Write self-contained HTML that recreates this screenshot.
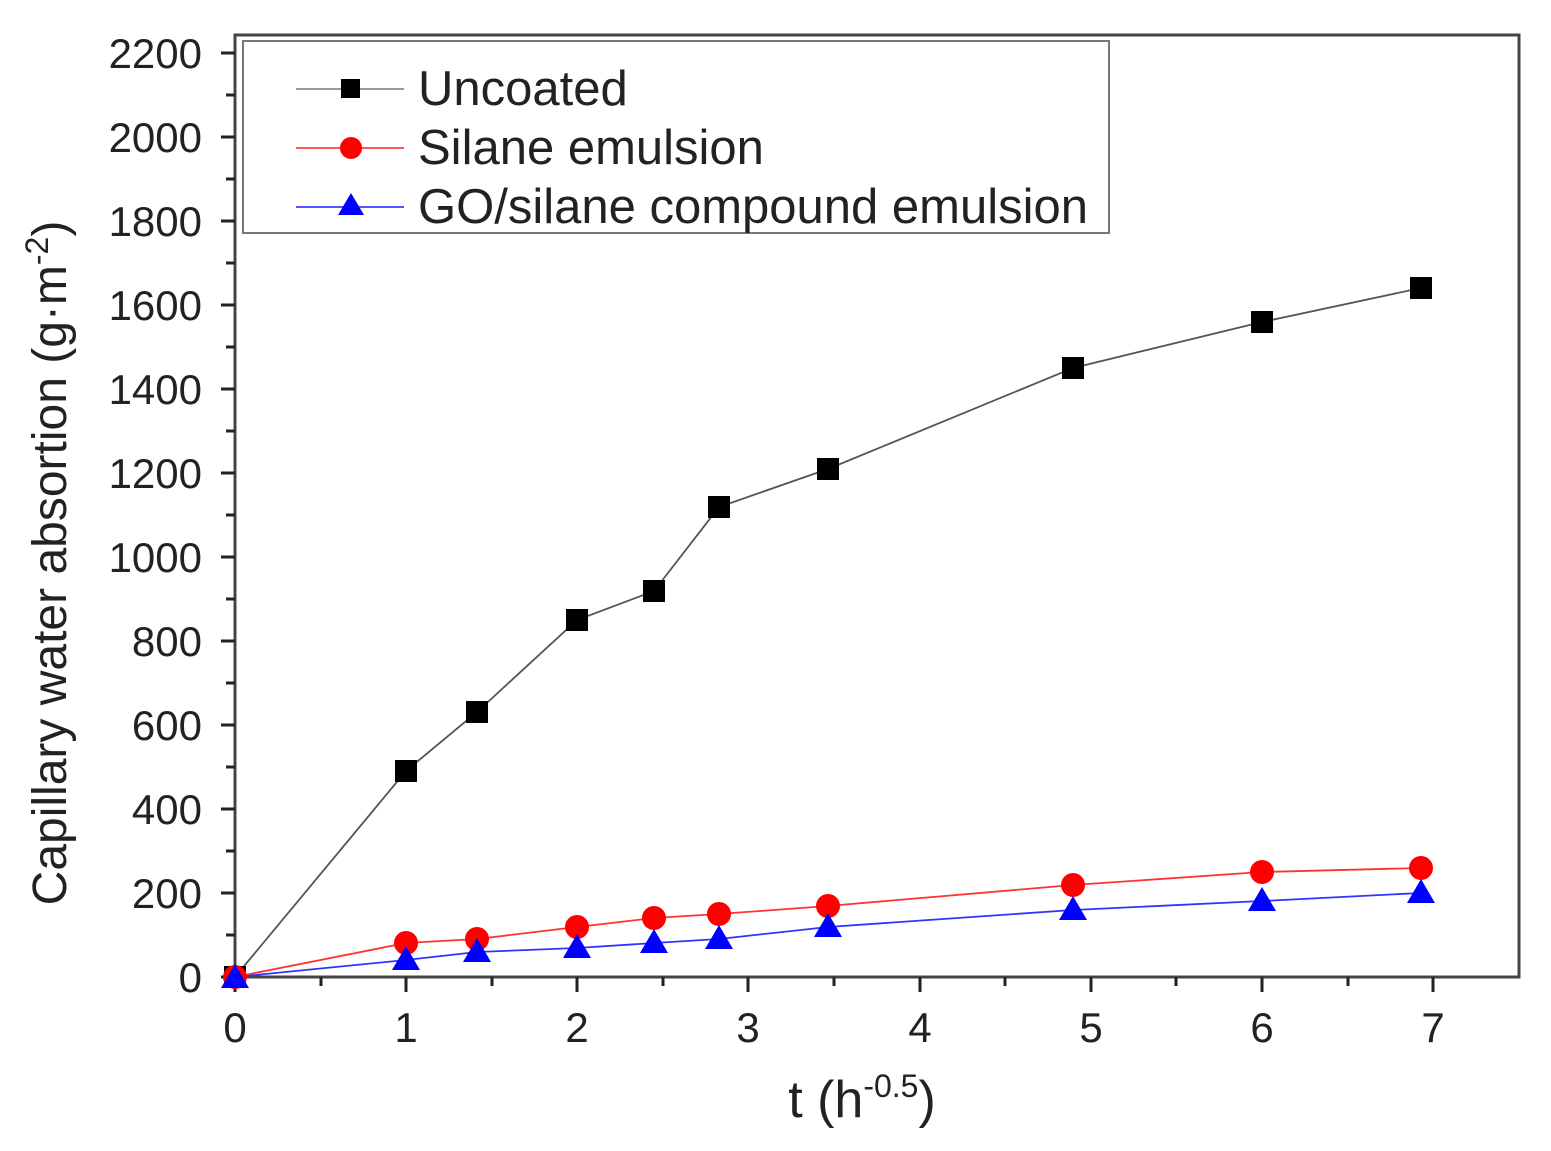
<!DOCTYPE html>
<html><head><meta charset="utf-8"><style>
html,body{margin:0;padding:0;background:#fff;}
svg{display:block;}
text{font-family:"Liberation Sans",Arial,sans-serif;fill:#222;}
</style></head><body>
<svg width="1551" height="1151" viewBox="0 0 1551 1151" xmlns="http://www.w3.org/2000/svg">
<rect width="1551" height="1151" fill="#fff"/>
<rect x="235" y="35" width="1284" height="942" fill="none" stroke="#444" stroke-width="3"/>
<g stroke="#222" stroke-width="3">
<line x1="221" y1="977" x2="235" y2="977"/><line x1="221" y1="893" x2="235" y2="893"/><line x1="221" y1="809" x2="235" y2="809"/><line x1="221" y1="725" x2="235" y2="725"/><line x1="221" y1="641" x2="235" y2="641"/><line x1="221" y1="557" x2="235" y2="557"/><line x1="221" y1="473" x2="235" y2="473"/><line x1="221" y1="389" x2="235" y2="389"/><line x1="221" y1="305" x2="235" y2="305"/><line x1="221" y1="221" x2="235" y2="221"/><line x1="221" y1="137" x2="235" y2="137"/><line x1="221" y1="53" x2="235" y2="53"/>
<line x1="226" y1="935" x2="235" y2="935"/><line x1="226" y1="851" x2="235" y2="851"/><line x1="226" y1="767" x2="235" y2="767"/><line x1="226" y1="683" x2="235" y2="683"/><line x1="226" y1="599" x2="235" y2="599"/><line x1="226" y1="515" x2="235" y2="515"/><line x1="226" y1="431" x2="235" y2="431"/><line x1="226" y1="347" x2="235" y2="347"/><line x1="226" y1="263" x2="235" y2="263"/><line x1="226" y1="179" x2="235" y2="179"/><line x1="226" y1="95" x2="235" y2="95"/>
<line x1="235" y1="977" x2="235" y2="992"/><line x1="406" y1="977" x2="406" y2="992"/><line x1="577" y1="977" x2="577" y2="992"/><line x1="748" y1="977" x2="748" y2="992"/><line x1="920" y1="977" x2="920" y2="992"/><line x1="1091" y1="977" x2="1091" y2="992"/><line x1="1262" y1="977" x2="1262" y2="992"/><line x1="1433" y1="977" x2="1433" y2="992"/>
<line x1="321" y1="977" x2="321" y2="986"/><line x1="492" y1="977" x2="492" y2="986"/><line x1="663" y1="977" x2="663" y2="986"/><line x1="834" y1="977" x2="834" y2="986"/><line x1="1005" y1="977" x2="1005" y2="986"/><line x1="1176" y1="977" x2="1176" y2="986"/><line x1="1348" y1="977" x2="1348" y2="986"/>
</g>
<g font-size="42" text-anchor="end">
<text x="202" y="992">0</text><text x="202" y="908">200</text><text x="202" y="824">400</text><text x="202" y="740">600</text><text x="202" y="656">800</text><text x="202" y="572">1000</text><text x="202" y="488">1200</text><text x="202" y="404">1400</text><text x="202" y="320">1600</text><text x="202" y="236">1800</text><text x="202" y="152">2000</text><text x="202" y="68">2200</text>
</g>
<g font-size="42" text-anchor="middle">
<text x="235" y="1042">0</text><text x="406" y="1042">1</text><text x="577" y="1042">2</text><text x="748" y="1042">3</text><text x="920" y="1042">4</text><text x="1091" y="1042">5</text><text x="1262" y="1042">6</text><text x="1433" y="1042">7</text>
</g>
<text x="862" y="1117" font-size="52" text-anchor="middle">t (h<tspan dy="-20" font-size="32">-0.5</tspan><tspan dy="20">)</tspan></text>
<text transform="translate(66,563) rotate(-90)" font-size="48" text-anchor="middle">Capillary water absortion (g·m<tspan dy="-18" font-size="32">-2</tspan><tspan dy="18">)</tspan></text>
<polyline fill="none" stroke="#555" stroke-width="1.8" points="235,977 406,771 477,712 577,620 654,591 719,507 828,469 1073,368 1262,322 1421,288"/>
<polyline fill="none" stroke="#f33" stroke-width="1.8" points="235,977 406,943 477,939 577,927 654,918 719,914 828,906 1073,885 1262,872 1421,868"/>
<polyline fill="none" stroke="#33f" stroke-width="1.8" points="235,977 406,960 477,952 577,948 654,943 719,939 828,927 1073,910 1262,901 1421,893"/>
<g fill="#000">
<rect x="224" y="966" width="22" height="22"/><rect x="395" y="760" width="22" height="22"/><rect x="466" y="701" width="22" height="22"/><rect x="566" y="609" width="22" height="22"/><rect x="643" y="580" width="22" height="22"/><rect x="708" y="496" width="22" height="22"/><rect x="817" y="458" width="22" height="22"/><rect x="1062" y="357" width="22" height="22"/><rect x="1251" y="311" width="22" height="22"/><rect x="1410" y="277" width="22" height="22"/>
</g>
<g fill="#f00">
<circle cx="235" cy="977" r="12"/><circle cx="406" cy="943" r="12"/><circle cx="477" cy="939" r="12"/><circle cx="577" cy="927" r="12"/><circle cx="654" cy="918" r="12"/><circle cx="719" cy="914" r="12"/><circle cx="828" cy="906" r="12"/><circle cx="1073" cy="885" r="12"/><circle cx="1262" cy="872" r="12"/><circle cx="1421" cy="868" r="12"/>
</g>
<g fill="#00f">
<polygon points="235,964 249,988 221,988"/><polygon points="406,946 420,970 392,970"/><polygon points="477,938 491,962 463,962"/><polygon points="577,934 591,958 563,958"/><polygon points="654,929 668,953 640,953"/><polygon points="719,925 733,949 705,949"/><polygon points="828,913 842,937 814,937"/><polygon points="1073,896 1087,920 1059,920"/><polygon points="1262,887 1276,911 1248,911"/><polygon points="1421,879 1435,903 1407,903"/>
</g>
<rect x="243" y="41" width="866" height="192" fill="#fff" stroke="#777" stroke-width="2"/>
<line x1="296" y1="89" x2="404" y2="89" stroke="#999" stroke-width="2"/>
<rect x="341" y="79" width="19" height="19" fill="#000"/>
<line x1="296" y1="148" x2="404" y2="148" stroke="#f55" stroke-width="2"/>
<circle cx="351" cy="148" r="11" fill="#f00"/>
<line x1="296" y1="207" x2="404" y2="207" stroke="#55f" stroke-width="2"/>
<polygon points="351,193 364,215 338,215" fill="#00f"/>
<g font-size="49">
<text x="418" y="105">Uncoated</text>
<text x="418" y="164">Silane emulsion</text>
<text x="418" y="223">GO/silane compound emulsion</text>
</g>
</svg>
</body></html>
